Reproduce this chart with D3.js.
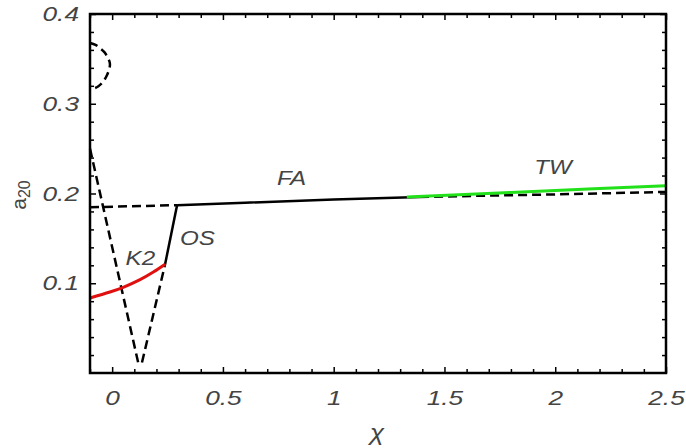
<!DOCTYPE html>
<html>
<head>
<meta charset="utf-8">
<script src="https://cdn.jsdelivr.net/npm/d3@7"></script>
<style>
  body { margin: 0; background: #fff; }
  svg text { font-family: "Liberation Sans", Arial, sans-serif; font-style: italic; fill: #444; }
</style>
</head>
<body>
<div id="chart"></div>
<script>
// closed dashed loop at the top-left
const loopChi = [-0.1, -0.075, -0.055, -0.035, -0.019, -0.011, -0.010, -0.014, -0.023, -0.034, -0.046, -0.062, -0.077, -0.1];
const loopA20 = [0.3676, 0.3655, 0.362, 0.3575, 0.351, 0.346, 0.343, 0.338, 0.332, 0.327, 0.323, 0.3195, 0.3175, 0.3160];

// dashed V (left arm down, right arm up to the red curve end)
const vChi = [-0.1, 0.118, 0.134, 0.239];
const vA20 = [0.250, 0.011, 0.011, 0.1212];

// solid OS boundary
const osChi = [0.239, 0.293];
const osA20 = [0.1212, 0.187];

// dashed near-horizontal line
const hChi = [-0.1, 0.293];
const hA20 = [0.1847, 0.187];

// FA solid line
const faChi = [0.293, 0.6, 1.0, 1.39];
const faA20 = [0.187, 0.1897, 0.1932, 0.1962];

// dashed continuation under TW
const faDashChi = [1.39, 2.0, 2.5];
const faDashA20 = [0.1962, 0.199, 0.2018];

// TW green line
const twChi = [1.33, 1.8, 2.2, 2.5];
const twA20 = [0.1960, 0.2012, 0.2055, 0.2087];

// K2 red curve
const k2Chi = [-0.1, -0.01, 0.05, 0.126, 0.186, 0.239];
const k2A20 = [0.0836, 0.0902, 0.0955, 0.1040, 0.1125, 0.1212];

const xMajor = [0, 0.5, 1, 1.5, 2, 2.5];
const xLabels = ["0", "0.5", "1", "1.5", "2", "2.5"];
const yMajor = [0.1, 0.2, 0.3, 0.4];
const yLabels = ["0.1", "0.2", "0.3", "0.4"];

const width = 686;
const height = 448;
const margin = { top: 14, right: 20, bottom: 75, left: 90 };
const innerW = width - margin.left - margin.right;
const innerH = height - margin.top - margin.bottom;

const x = d3.scaleLinear().domain([-0.1, 2.5]).range([0, innerW]);
const y = d3.scaleLinear().domain([0, 0.4]).range([innerH, 0]);

const svg = d3.select("#chart").append("svg")
  .attr("width", width)
  .attr("height", height);

const g = svg.append("g").attr("transform", "translate(" + margin.left + "," + margin.top + ")");

const xMinor = d3.range(-0.1, 2.5001, 0.1).map(function (v) { return +v.toFixed(2); })
  .filter(function (v) { return xMajor.indexOf(v) === -1; });
const yMinor = d3.range(0.02, 0.4, 0.02).map(function (v) { return +v.toFixed(2); })
  .filter(function (v) { return yMajor.indexOf(v) === -1; });

const TEXT_STRETCH = 1.25;

function styleAxis(sel) {
  sel.select(".domain").remove();
  sel.selectAll("line").attr("stroke", "#000").attr("stroke-width", 1.5);
  sel.selectAll("text").attr("font-size", 21).attr("fill", "#444");
}

function stretchText(sel) {
  // the reference lettering is wide, so widen the tick labels a bit
  sel.selectAll("text").each(function () {
    const t = d3.select(this);
    const tx = +t.attr("x") || 0;
    const ty = +t.attr("y") || 0;
    t.attr("x", 0).attr("y", 0)
      .attr("transform", "translate(" + tx + "," + ty + ") scale(" + TEXT_STRETCH + ",1)");
  });
}

// bottom
g.append("g").attr("transform", "translate(0," + innerH + ")")
  .call(d3.axisBottom(x).tickValues(xMajor).tickSize(-6).tickPadding(17)
    .tickFormat(function (d, i) { return xLabels[i]; }))
  .call(styleAxis)
  .call(stretchText);
g.append("g").attr("transform", "translate(0," + innerH + ")")
  .call(d3.axisBottom(x).tickValues(xMinor).tickSize(-4).tickFormat(""))
  .call(styleAxis);
// top
g.append("g")
  .call(d3.axisTop(x).tickValues(xMajor).tickSize(-6).tickFormat(""))
  .call(styleAxis);
g.append("g")
  .call(d3.axisTop(x).tickValues(xMinor).tickSize(-4).tickFormat(""))
  .call(styleAxis);
// left
g.append("g")
  .call(d3.axisLeft(y).tickValues(yMajor).tickSize(-6).tickPadding(11)
    .tickFormat(function (d, i) { return yLabels[i]; }))
  .call(styleAxis)
  .call(stretchText);
g.append("g")
  .call(d3.axisLeft(y).tickValues(yMinor).tickSize(-4).tickFormat(""))
  .call(styleAxis);
// right
g.append("g").attr("transform", "translate(" + innerW + ",0)")
  .call(d3.axisRight(y).tickValues(yMajor).tickSize(-6).tickFormat(""))
  .call(styleAxis);
g.append("g").attr("transform", "translate(" + innerW + ",0)")
  .call(d3.axisRight(y).tickValues(yMinor).tickSize(-4).tickFormat(""))
  .call(styleAxis);

const line = d3.line()
  .x(function (d) { return x(d[0]); })
  .y(function (d) { return y(d[1]); });
const curve = d3.line()
  .x(function (d) { return x(d[0]); })
  .y(function (d) { return y(d[1]); })
  .curve(d3.curveCatmullRom);

function zip(a, b) { return a.map(function (v, i) { return [v, b[i]]; }); }

const plot = g.append("g");

plot.append("path").attr("d", curve(zip(loopChi, loopA20)))
  .attr("fill", "none").attr("stroke", "#000").attr("stroke-width", 2.5).attr("stroke-dasharray", "8,5");
plot.append("path").attr("d", line(zip(vChi, vA20)))
  .attr("fill", "none").attr("stroke", "#000").attr("stroke-width", 2.5).attr("stroke-dasharray", "9,5");
plot.append("path").attr("d", line(zip(hChi, hA20)))
  .attr("fill", "none").attr("stroke", "#000").attr("stroke-width", 2.5).attr("stroke-dasharray", "9,5");
plot.append("path").attr("d", line(zip(faDashChi, faDashA20)))
  .attr("fill", "none").attr("stroke", "#000").attr("stroke-width", 2.5).attr("stroke-dasharray", "9,5");
plot.append("path").attr("d", line(zip(osChi, osA20)))
  .attr("fill", "none").attr("stroke", "#000").attr("stroke-width", 2.5);
plot.append("path").attr("d", line(zip(faChi, faA20)))
  .attr("fill", "none").attr("stroke", "#000").attr("stroke-width", 2.5);
plot.append("path").attr("d", line(zip(twChi, twA20)))
  .attr("fill", "none").attr("stroke", "#22e01a").attr("stroke-width", 3);
plot.append("path").attr("d", curve(zip(k2Chi, k2A20)))
  .attr("fill", "none").attr("stroke", "#e01010").attr("stroke-width", 3);

// frame
g.append("rect").attr("width", innerW).attr("height", innerH)
  .attr("fill", "none").attr("stroke", "#000").attr("stroke-width", 2.5);

// region labels
const regionNames = ["K2", "OS", "FA", "TW"];
const regionChi = [0.127, 0.385, 0.81, 1.99];
const regionA20 = [0.120, 0.143, 0.210, 0.222];
g.selectAll(".region").data(regionNames).enter().append("text")
  .attr("class", "region")
  .attr("transform", function (d, i) {
    return "translate(" + x(regionChi[i]) + "," + y(regionA20[i]) + ") scale(1.15,1)";
  })
  .attr("text-anchor", "middle")
  .attr("font-size", 21)
  .text(function (d) { return d; });

// axis titles
svg.append("text").attr("transform", "translate(377,440) scale(1.15,1)").attr("text-anchor", "middle")
  .attr("font-size", 23).text("χ");
const yt = svg.append("text").attr("transform", "translate(26,195) rotate(-90)")
  .attr("text-anchor", "middle").attr("font-size", 21).style("font-style", "normal");
yt.append("tspan").text("a");
yt.append("tspan").attr("font-size", 16).attr("dy", 4).text("20");
</script>
</body>
</html>
